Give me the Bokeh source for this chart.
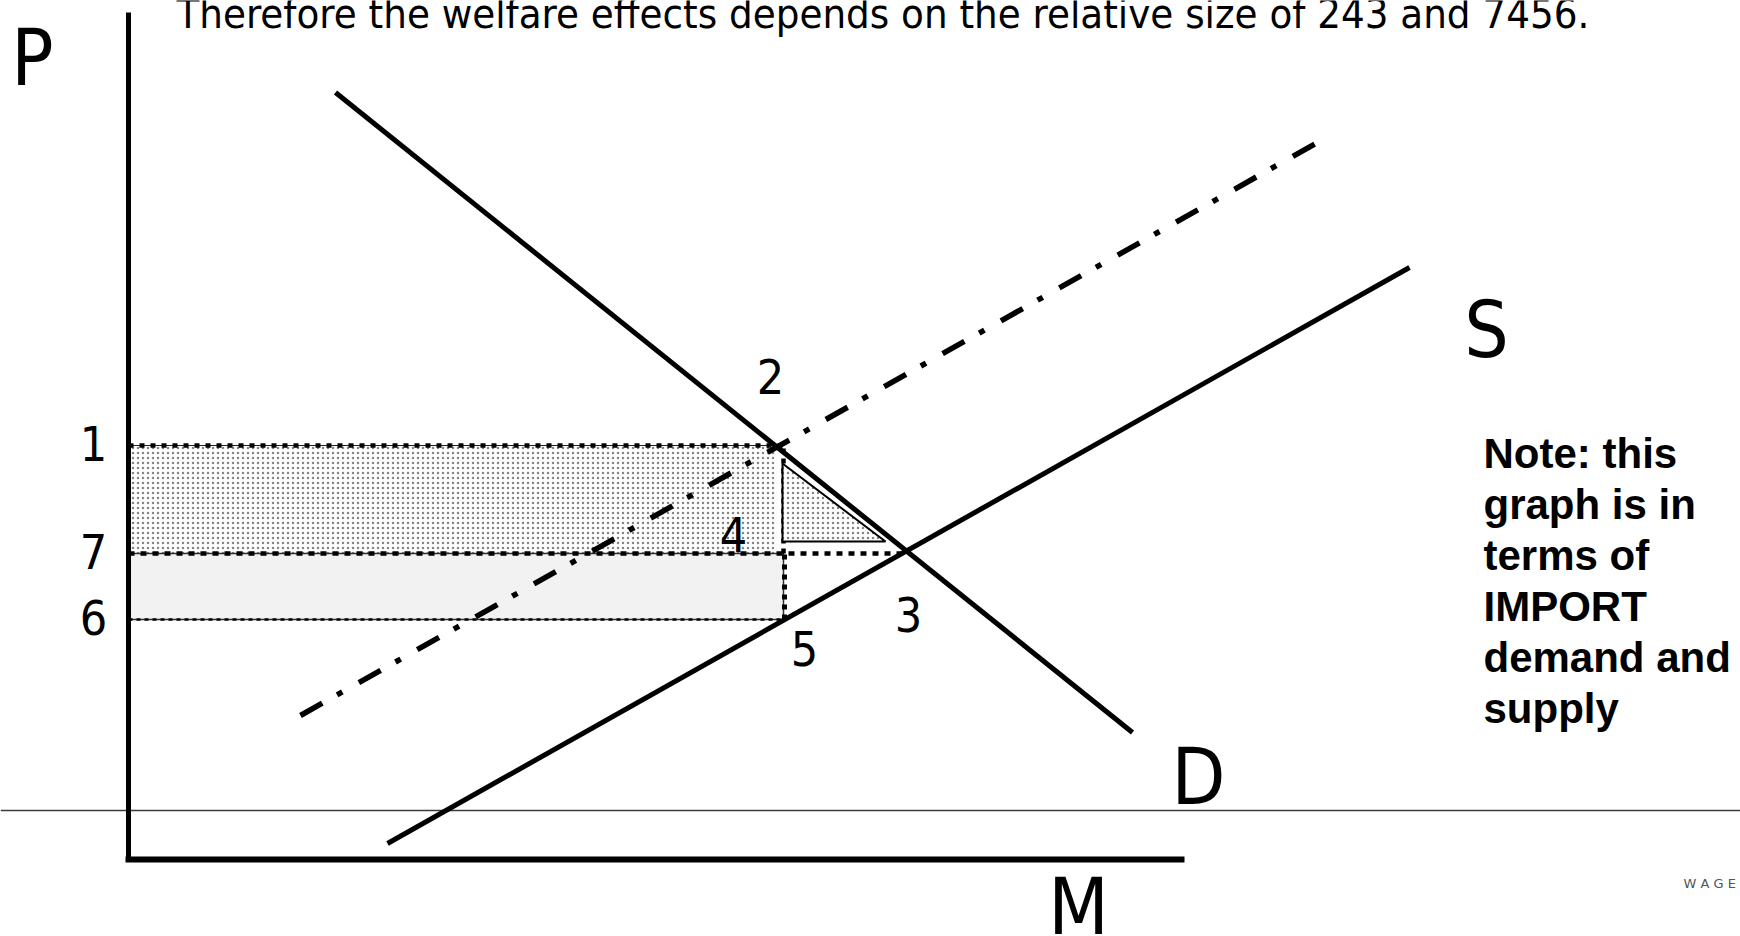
from bokeh.plotting import figure
from bokeh.models import Range1d
from bokeh.embed import file_html
from bokeh.resources import INLINE
from bokeh.core.properties import value

# Import demand (D), import supply (S) and supply shifted up by the tariff
demand_m = [207, 1004]
demand_p = [767, 127]
supply_m = [259, 1281]
supply_p = [16, 592]
tariff_supply_m = [172, 1189]
tariff_supply_p = [144, 717]

# Price levels: 1 = price with tariff, 7 = free-trade price, 6 = price received by exporters
level_names = ["1", "7", "6"]
level_prices = [414, 306, 240]
# Quantities imported: with tariff (points 2/4/5) and free trade (point 3)
q_tariff = 652
q_free = 778

axis_m_end = 1056
axis_p_end = 847

title = "Therefore the welfare effects depends on the relative size of 243 and 7456."
note_lines = ["Note: this", "graph is in", "terms of", "IMPORT", "demand and", "supply"]

p_tariff, p_free, p_world = level_prices

W, H = 1740, 936
p = figure(width=W, height=H, output_backend="svg", toolbar_location=None,
           x_range=Range1d(-128, W - 128), y_range=Range1d(-(H - 859), 859),
           min_border=0, outline_line_color=None, background_fill_color="white",
           border_fill_color="white")
p.axis.visible = False
p.grid.visible = False

FONT = value("DejaVu Sans Condensed")

# thin page rule
p.line([-128, W - 128], [49, 49], line_color="#3c3c3c", line_width=1.5)

# Area between price with tariff and free-trade price, up to tariff imports (stippled)
p.quad(left=[0], right=[q_tariff - 4], bottom=[p_free], top=[p_tariff],
       fill_color="white", line_color=None,
       hatch_pattern="dot", hatch_scale=5, hatch_weight=1.2, hatch_color="#858585")

# Area between free-trade price and exporters' price (light grey)
p.quad(left=[0], right=[q_tariff + 3], bottom=[p_world], top=[p_free],
       fill_color="#f2f2f2", line_color="#303030", line_width=1.5)

# dotted level guides
p.line([0, q_tariff + 4], [p_tariff, p_tariff], line_color="#202020", line_width=1)
p.line([0, q_tariff + 4], [p_tariff, p_tariff], line_color="black", line_width=4.5,
       line_dash="5 6")
p.line([0, q_free], [p_free, p_free], line_color="black", line_width=4.5, line_dash="6 6")
p.line([0, q_tariff + 3], [p_world, p_world], line_color="black", line_width=2.5,
       line_dash="4 4")
p.line([q_tariff + 4, q_tariff + 4], [p_world, p_free], line_color="black", line_width=5,
       line_dash="5 5")
p.line([q_tariff + 3, q_tariff + 3], [p_free, p_tariff], line_color="black", line_width=4.5,
       line_dash="5 5")

# deadweight-loss triangle, inset from points 2, 4 and 3
tri_m = [q_tariff + 2, q_tariff + 2, q_free - 21]
tri_p = [p_tariff - 18, p_free + 12, p_free + 12]
p.patch(tri_m, tri_p, fill_color="white", line_color="black", line_width=2,
        hatch_pattern="dot", hatch_scale=5, hatch_weight=1.2, hatch_color="#858585")

# curves
p.line(tariff_supply_m, tariff_supply_p, line_color="black", line_width=5.5,
       line_dash="25 17 6 19")
p.line(demand_m, demand_p, line_color="black", line_width=5)
p.line(supply_m, supply_p, line_color="black", line_width=5)

# axes
p.line([0, 0], [0, axis_p_end], line_color="black", line_width=5)
p.line([-3, axis_m_end], [0, 0], line_color="black", line_width=6)

# axis and curve names
big = dict(text_font=FONT, text_font_size="78px", text_align="center",
           text_baseline="alphabetic", text_color="black", y_offset=-28)
p.text(x=[-96], y=[774], text=["P"], **big)
p.text(x=[950], y=[-75], text=["M"], **big)
p.text(x=[1358], y=[502], text=["S"], **big)
p.text(x=[1070], y=[55], text=["D"], **big)

# price level labels
p.text(x=[-35] * 3, y=level_prices, text=level_names, text_font=FONT,
       text_font_size="48px", text_align="center", text_baseline="alphabetic",
       y_offset=-2, text_color="black")

# point labels
pt_names = ["2", "4", "3", "5"]
pt_m = [q_tariff - 10, q_tariff - 47, q_free + 2, q_tariff + 24]
pt_p = [p_tariff + 51, p_free + 1, p_free - 79, p_world - 47]
p.text(x=pt_m, y=pt_p, text=pt_names, text_font=FONT, text_font_size="48px",
       text_align="center", text_baseline="alphabetic", y_offset=-18,
       text_color="black")

# heading
p.text(x=[48], y=[831], text=[title], text_font=FONT, text_font_size="41.5px",
       text_align="left", text_baseline="alphabetic", y_offset=-15,
       text_color="black")

# side note
p.text(x=[1355] * len(note_lines), y=[392 - 51 * i for i in range(len(note_lines))],
       text=note_lines, text_font=value("Liberation Sans"), text_font_size="42px",
       text_font_style="bold", text_align="left", text_baseline="alphabetic",
       y_offset=-14, text_color="black")

# footer mark
p.text(x=[1555], y=[-29], text=["W A G E N I N G E N"], text_font=value("DejaVu Sans"),
       text_font_size="13px", text_align="left", text_baseline="alphabetic",
       y_offset=-5, text_color="#555555")

open("out.html", "w").write(file_html(p, INLINE))
